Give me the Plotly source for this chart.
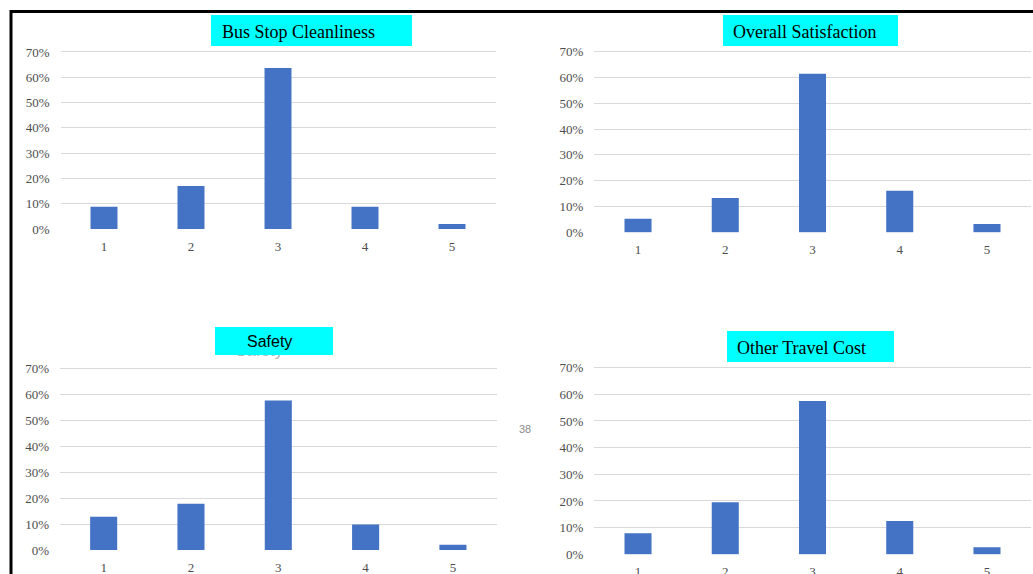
import plotly.graph_objects as go

W, H = 1033, 574

ratings = [1, 2, 3, 4, 5]
rating_labels = ["1", "2", "3", "4", "5"]

bus_stop_cleanliness = [0.088, 0.170, 0.637, 0.088, 0.020]
overall_satisfaction = [0.053, 0.133, 0.615, 0.161, 0.032]
safety = [0.128, 0.178, 0.576, 0.098, 0.020]
other_travel_cost = [0.079, 0.195, 0.575, 0.125, 0.026]

titles = ["Bus Stop Cleanliness", "Overall Satisfaction", "Safety", "Other Travel Cost"]
series = [bus_stop_cleanliness, overall_satisfaction, safety, other_travel_cost]

y_ticks = [0, 0.1, 0.2, 0.3, 0.4, 0.5, 0.6, 0.7]
y_tick_labels = ["0%", "10%", "20%", "30%", "40%", "50%", "60%", "70%"]

Y_MIN, Y_MAX = -0.002, 0.705

# panel layout in pixels: left, right, y of the 0% line, pixels per 10%
panels = [
    (60.5, 495.5, 229.0, 25.29),
    (594.4, 1030.6, 232.3, 25.80),
    (60.0, 496.6, 550.0, 25.96),
    (594.4, 1030.6, 554.3, 26.66),
]

# cyan title boxes: left, right, top, bottom, text x (None = centred), font
title_boxes = [
    (211, 412, 15, 46, 220, "Liberation Serif"),
    (723, 898, 15, 46, 731, "Liberation Serif"),
    (215, 333, 327, 355, None, "Liberation Sans"),
    (727, 894, 331, 362, 735, "Liberation Serif"),
]

BAR_COLOR = "#4472C4"
GRID_COLOR = "#d9d9d9"
TICK_COLOR = "#4d4d4d"


def fx(px):
    return px / W


def fy(py):
    return 1 - py / H


fig = go.Figure()
layout = {}

for i, (vals, (x0, x1, y0, per10)) in enumerate(zip(series, panels)):
    n = "" if i == 0 else str(i + 1)
    top_px = y0 - (Y_MAX * 100 / 10) * per10
    bot_px = y0 - (Y_MIN * 100 / 10) * per10
    fig.add_trace(go.Bar(
        x=ratings, y=vals, width=0.31,
        marker=dict(color=BAR_COLOR, line=dict(width=0)),
        xaxis="x" + n, yaxis="y" + n, showlegend=False,
    ))
    layout["xaxis" + n] = dict(
        domain=[fx(x0), fx(x1)], anchor="y" + n, range=[0.5, 5.5],
        tickvals=ratings, ticktext=rating_labels, showgrid=False,
        zeroline=False, showline=False, ticks="", ticklabelstandoff=7,
        tickfont=dict(family="Liberation Serif", size=13, color=TICK_COLOR),
        fixedrange=True, automargin=False,
    )
    layout["yaxis" + n] = dict(
        domain=[fy(bot_px), fy(top_px)], anchor="x" + n, range=[Y_MIN, Y_MAX],
        tickvals=y_ticks, ticktext=y_tick_labels, showgrid=True,
        gridcolor=GRID_COLOR, gridwidth=1.4, zeroline=False, showline=False,
        ticks="", ticklabelstandoff=10,
        tickfont=dict(family="Liberation Serif", size=13, color=TICK_COLOR),
        fixedrange=True, automargin=False,
    )

annotations = []

# faint leftover heading peeking out beneath the Safety box
annotations.append(dict(
    x=fx(259), y=fy(350), xref="paper", yref="paper", text="Safety",
    showarrow=False, xanchor="center", yanchor="middle",
    font=dict(family="Liberation Sans", size=17, color="#b8b8b8"),
))

for title, (bx0, bx1, by0, by1, tx, fam) in zip(titles, title_boxes):
    annotations.append(dict(
        x=fx(bx0), y=fy(by0), xref="paper", yref="paper", text=" ",
        showarrow=False, xanchor="left", yanchor="top",
        width=bx1 - bx0, height=by1 - by0, borderpad=0, borderwidth=0,
        bgcolor="#00FFFF", font=dict(size=10),
    ))
    if tx is None:
        annotations.append(dict(
            x=fx(269), y=fy((by0 + by1) / 2), xref="paper", yref="paper",
            text=title, showarrow=False, xanchor="center", yanchor="middle",
            font=dict(family=fam, size=16, color="#000000"),
        ))
    else:
        annotations.append(dict(
            x=fx(tx), y=fy((by0 + by1) / 2 + 1), xref="paper", yref="paper",
            text=title, showarrow=False, xanchor="left", yanchor="middle",
            font=dict(family=fam, size=18, color="#000000"),
        ))

# page number
annotations.append(dict(
    x=fx(525), y=fy(429), xref="paper", yref="paper", text="38",
    showarrow=False, xanchor="center", yanchor="middle",
    font=dict(family="Liberation Sans", size=11, color="#8c8c8c"),
))

shapes = [
    dict(type="line", xref="paper", yref="paper",
         x0=fx(10), x1=1, y0=fy(11.5), y1=fy(11.5),
         line=dict(color="#000000", width=3)),
    dict(type="line", xref="paper", yref="paper",
         x0=fx(11), x1=fx(11), y0=fy(10), y1=0,
         line=dict(color="#000000", width=3)),
]

fig.update_layout(
    width=W, height=H, autosize=False,
    margin=dict(l=0, r=0, t=0, b=0, pad=0, autoexpand=False),
    paper_bgcolor="white", plot_bgcolor="white",
    annotations=annotations, shapes=shapes,
    showlegend=False,
    **layout,
)

fig.write_html("out.html", config={"displayModeBar": False})
